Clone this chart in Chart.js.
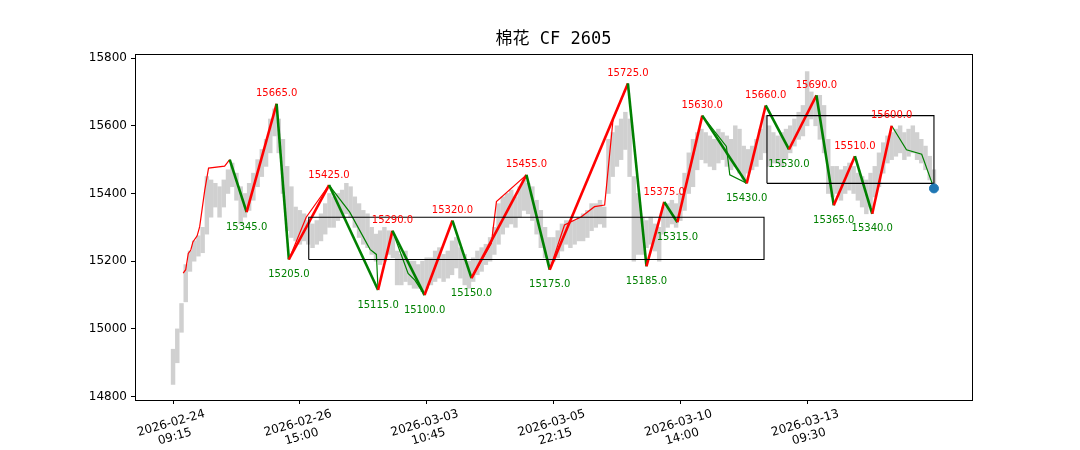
<!DOCTYPE html>
<html><head><meta charset="utf-8">
<script src="https://cdn.jsdelivr.net/npm/chart.js@4"></script>
<style>html,body{margin:0;padding:0;background:#fff}#wrap{width:1080px;height:450px}</style>
</head><body><div id="wrap"><canvas id="c" width="1080" height="450"></canvas></div>
<script>
const titleText = '棉花 CF 2605';
const xTickValues = [0, 30, 60, 90, 120, 150];
const xTickLabels = [['2026-02-24','09:15'],['2026-02-26','15:00'],['2026-03-03','10:45'],['2026-03-05','22:15'],['2026-03-10','14:00'],['2026-03-13','09:30']];
const yTickValues = [14800, 15000, 15200, 15400, 15600, 15800];

const barLow = [14836,14900,14990,15080,15170,15200,15215,15225,15280,15330,15360,15330,15360,15400,15420,15380,15310,15330,15350,15380,
15420,15450,15480,15520,15570,15520,15400,15290,15270,15260,15250,15260,15250,15240,15250,15260,15280,15300,15300,15320,
15330,15340,15330,15300,15270,15250,15240,15220,15200,15190,15200,15220,15210,15130,15130,15140,15130,15120,15120,15110,
15120,15130,15140,15150,15140,15150,15160,15180,15150,15130,15120,15140,15160,15170,15190,15200,15220,15250,15280,15300,
15310,15300,15330,15350,15340,15320,15280,15240,15210,15190,15200,15210,15230,15250,15240,15250,15260,15260,15270,15290,
15300,15310,15300,15400,15450,15480,15500,15530,15450,15200,15220,15220,15240,15250,15230,15200,15280,15300,15310,15300,
15320,15350,15400,15420,15470,15500,15490,15480,15470,15490,15500,15480,15470,15480,15460,15440,15460,15470,15480,15500,
15520,15480,15490,15490,15480,15500,15520,15540,15560,15570,15600,15620,15600,15560,15520,15400,15390,15400,15380,15400,
15410,15400,15380,15360,15340,15360,15390,15420,15460,15490,15500,15510,15520,15500,15510,15520,15500,15490,15470,15440,15410];
const barHigh = [14940,15000,15075,15190,15230,15260,15275,15300,15450,15440,15430,15420,15440,15470,15490,15460,15420,15400,15430,15460,
15500,15530,15560,15620,15650,15620,15560,15480,15420,15360,15350,15340,15320,15310,15320,15340,15370,15400,15390,15400,
15410,15430,15420,15390,15370,15350,15340,15300,15280,15290,15300,15290,15280,15230,15220,15230,15200,15200,15190,15200,
15210,15210,15230,15240,15220,15230,15260,15270,15240,15220,15200,15210,15230,15240,15250,15270,15300,15370,15390,15400,
15410,15390,15420,15440,15430,15420,15380,15350,15300,15270,15270,15290,15310,15320,15320,15320,15330,15340,15350,15370,
15370,15380,15360,15560,15580,15600,15620,15640,15620,15450,15400,15330,15320,15330,15310,15300,15360,15370,15380,15370,
15400,15460,15520,15560,15580,15590,15580,15570,15560,15590,15580,15570,15560,15600,15590,15540,15530,15540,15560,15590,
15630,15600,15580,15570,15580,15590,15600,15620,15640,15660,15760,15700,15680,15690,15660,15560,15480,15480,15470,15480,
15490,15480,15460,15450,15440,15460,15480,15520,15550,15570,15580,15590,15600,15580,15590,15600,15580,15560,15540,15510,15470];

// thick zigzag pivots
const zzX = [13.4,17.4,24.5,27.4,36.9,48.5,51.9,59.5,66.1,70.6,83.6,89.1,107.6,112.0,116.2,119.3,125.2,135.7,140.2,145.7,152.2,156.3,161.3,165.4,170.0];
const zzY = [15500,15345,15665,15205,15425,15115,15290,15100,15320,15150,15455,15175,15725,15185,15375,15315,15630,15430,15660,15530,15690,15365,15510,15340,15600];

// thin strokes
const thinRed1X = [2.4,3.0,3.6,4.2,4.7,5.7,6.3,7.5,8.4,12.2,13.4];
const thinRed1Y = [15165,15175,15223,15233,15257,15275,15302,15410,15475,15481,15500];
const thinRed2X = [27.4,31.5,36.9];
const thinRed2Y = [15205,15330,15425];
const thinRed3X = [70.6,75.3,76.5,83.6];
const thinRed3Y = [15150,15253,15376,15455];
const thinRed4X = [89.1,92.6,96.6,99.7,102.1,104.1,107.6];
const thinRed4Y = [15175,15307,15331,15361,15366,15620,15725];
const thinGreen1X = [36.9,41.8,46.6,48.1,48.5];
const thinGreen1Y = [15425,15345,15235,15220,15115];
const thinGreen2X = [51.9,55.6,57.2,59.5];
const thinGreen2Y = [15290,15164,15144,15100];
const thinGreen3X = [125.2,130.9,131.7,135.7];
const thinGreen3Y = [15630,15539,15455,15430];
const thinGreen4X = [170.0,173.5,177.1,180.0];
const thinGreen4Y = [15600,15529,15516,15415];

// boxes [x0, x1, yLow, yHigh]
const box1 = [32.1, 139.8, 15205, 15330];
const box2 = [140.5, 180.0, 15430, 15630];
// last point marker
const lastX = [180.0];
const lastY = [15415];

const pts = (xs, ys) => xs.map((v, i) => ({x: v, y: ys[i]}));
const boxPts = b => [{x:b[0],y:b[2]},{x:b[1],y:b[2]},{x:b[1],y:b[3]},{x:b[0],y:b[3]},{x:b[0],y:b[2]}];
const thin = (xs, ys, col) => ({type:'line', data: pts(xs, ys), borderColor: col, borderWidth: 1.2, pointRadius: 0, fill: false, tension: 0, order: 3});

Chart.defaults.font.family = '"DejaVu Sans", sans-serif';

const overlay = {
  id: 'overlay',
  afterDatasetsDraw(chart) {
    const {ctx, chartArea: a, scales: {x, y}} = chart;
    ctx.save();
    ctx.font = '10px "DejaVu Sans"';
    ctx.textAlign = 'center';
    ctx.textBaseline = 'middle';
    for (let i = 1; i < zzX.length; i++) {
      const up = zzY[i] > zzY[i-1];
      const px = x.getPixelForValue(zzX[i]);
      const py = y.getPixelForValue(zzY[i]);
      ctx.fillStyle = up ? '#ff0000' : '#008000';
      ctx.fillText(zzY[i].toFixed(1), px, up ? py - 10 : py + 15);
    }
    ctx.strokeStyle = '#000';
    ctx.lineWidth = 1;
    ctx.strokeRect(Math.round(a.left) + 0.5, Math.round(a.top) + 0.5, Math.round(a.right - a.left), Math.round(a.bottom - a.top));
    ctx.restore();
  },
  afterDraw(chart) {
    const {ctx, chartArea: a, scales: {x}} = chart;
    ctx.save();
    ctx.fillStyle = '#000';
    ctx.textAlign = 'center';
    ctx.textBaseline = 'middle';
    ctx.font = '17px "DejaVu Sans Mono", "Noto Sans CJK SC"';
    ctx.fillText(titleText, (a.left + a.right) / 2, 40);
    ctx.font = '12px "DejaVu Sans"';
    const th = 16 * Math.PI / 180, lh = 14;
    xTickValues.forEach((v, i) => {
      const lines = xTickLabels[i];
      const w = Math.max(...lines.map(s => ctx.measureText(s).width));
      const h = lh * lines.length;
      const bh = w * Math.sin(th) + h * Math.cos(th);
      const cx = x.getPixelForValue(v);
      const cy = a.bottom + 7 + bh / 2;
      ctx.save();
      ctx.translate(cx, cy);
      ctx.rotate(-th);
      lines.forEach((s, j) => ctx.fillText(s, 0, -h / 2 + lh * (j + 0.5)));
      ctx.restore();
    });
    ctx.restore();
  }
};

new Chart(document.getElementById('c'), {
  type: 'line',
  data: {
    datasets: [
      {type:'line', data: pts(lastX, lastY), showLine: false, pointRadius: 4.5, pointBackgroundColor: '#1f77b4', pointBorderColor: '#1f77b4', order: 0},
      {type:'line', data: boxPts(box1), borderColor: '#000', borderWidth: 1.1, pointRadius: 0, fill: false, tension: 0, order: 1},
      {type:'line', data: boxPts(box2), borderColor: '#000', borderWidth: 1.1, pointRadius: 0, fill: false, tension: 0, order: 1},
      {type:'line', data: pts(zzX, zzY), borderWidth: 2.6, pointRadius: 0, fill: false, tension: 0, order: 2,
        borderColor: '#ff0000', borderJoinStyle: 'round',
        segment: {borderColor: c => c.p1.parsed.y > c.p0.parsed.y ? '#ff0000' : '#008000'}},
      thin(thinRed1X, thinRed1Y, '#ff0000'),
      thin(thinRed2X, thinRed2Y, '#ff0000'),
      thin(thinRed3X, thinRed3Y, '#ff0000'),
      thin(thinRed4X, thinRed4Y, '#ff0000'),
      thin(thinGreen1X, thinGreen1Y, '#008000'),
      thin(thinGreen2X, thinGreen2Y, '#008000'),
      thin(thinGreen3X, thinGreen3Y, '#008000'),
      thin(thinGreen4X, thinGreen4Y, '#008000'),
      {type:'bar', data: barLow.map((lo, i) => ({x: i, y: [lo, barHigh[i]]})), backgroundColor: '#d0d0d0', borderWidth: 0, barThickness: 3.8, order: 4}
    ]
  },
  options: {
    responsive: false,
    devicePixelRatio: 1,
    animation: false,
    events: [],
    layout: {padding: {top: 54, right: 108, bottom: 0, left: 0}},
    plugins: {legend: {display: false}, tooltip: {enabled: false}, title: {display: false}},
    scales: {
      x: {
        type: 'linear', min: -9, max: 189, offset: false,
        afterBuildTicks: s => { s.ticks = xTickValues.map(v => ({value: v})); },
        afterFit: s => { s.height = 50; },
        ticks: {display: false},
        grid: {display: true, drawOnChartArea: false, drawTicks: true, tickLength: 4, color: '#000', lineWidth: 1, offset: false},
        border: {display: false}
      },
      y: {
        type: 'linear', min: 14790, max: 15812,
        afterBuildTicks: s => { s.ticks = yTickValues.map(v => ({value: v})); },
        afterFit: s => { s.width = 135; },
        ticks: {color: '#000', font: {size: 12, family: '"DejaVu Sans"'}, padding: 4, callback: v => String(v)},
        grid: {display: true, drawOnChartArea: false, drawTicks: true, tickLength: 4, color: '#000', lineWidth: 1},
        border: {display: false}
      }
    }
  },
  plugins: [overlay]
});
</script>
</body></html>
